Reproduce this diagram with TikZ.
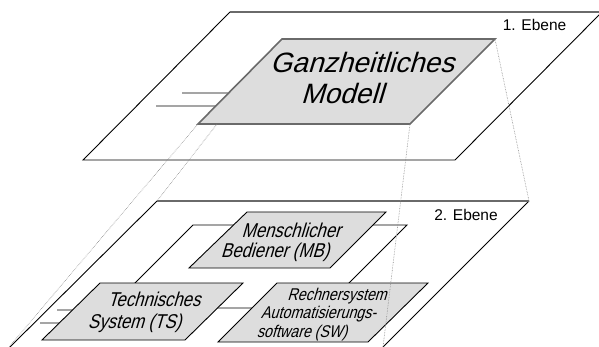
\documentclass[tikz,border=0pt]{standalone}
\usepackage{fontspec}
\usetikzlibrary{calc}
\setmainfont{Liberation Sans}
\newfontfamily\bigit{Liberation Sans}[FakeSlant=0.3]
\newfontfamily\condit{Liberation Sans}[FakeStretch=0.84,FakeSlant=0.3]
\definecolor{boxgray}{HTML}{DDDDDD}
\definecolor{edgegray}{HTML}{6A6A6A}
\definecolor{dotgray}{HTML}{8A8A8A}
\tikzset{
  planeline/.style={draw=black, line width=0.9pt},
  planetop/.style={draw=edgegray, line width=1.8pt},
  stub/.style={draw=black, line width=0.9pt},
  topbox/.style={fill=boxgray, draw=edgegray, line width=1.6pt, line join=miter},
  lowbox/.style={fill=boxgray, draw=black, line width=0.9pt, line join=miter},
  innerframe/.style={draw=black, line width=0.9pt},
  proj/.style={draw=dotgray, line width=0.6pt, densely dotted},
  bigtxt/.style={inner sep=0pt, anchor=base, font=\bigit\fontsize{28}{31}\selectfont},
  midtxt/.style={inner sep=0pt, anchor=base, font=\condit\fontsize{20}{21}\selectfont},
  smalltxt/.style={inner sep=0pt, anchor=base, font=\condit\fontsize{17}{18}\selectfont},
  lvltxt/.style={inner sep=0pt, anchor=base, font=\fontsize{15.5}{17}\selectfont}
}
\begin{document}
\begin{tikzpicture}[x=1pt,y=-1pt]
\useasboundingbox (0,0) rectangle (599,347);
% ---------- upper plane ----------
\coordinate (p1bl) at (83,160);
\coordinate (p1br) at (455,160);
\coordinate (p1tr) at (602,12);
\coordinate (p1tl) at (230,12);
\draw[planeline] (p1tl) -- (p1bl) -- (p1br) -- (p1tr);
\draw[planetop] (p1tl) -- (p1tr);
% ---------- lower plane ----------
\coordinate (p2tl) at (157,201);
\coordinate (p2tr) at (529,201);
\coordinate (p2bl) at (10,347);
\coordinate (p2br) at (383,347);
\draw[planeline] (p2bl) -- (p2tl);
\draw[planeline] (p2tr) -- (p2br);
\draw[planetop] (p2tl) -- (p2tr);
% ---------- upper stubs ----------
\coordinate (gbl) at (198,124);
\coordinate (gbr) at (410,124);
\coordinate (gtr) at (495,39);
\coordinate (gtl) at (282,39);
\coordinate (s1a) at (182,93);
\coordinate (s1b) at ($(gbl)!0.365!(gtl)$);
\coordinate (s2a) at (156,106);
\coordinate (s2b) at ($(gbl)!0.212!(gtl)$);
\draw[stub] (s1a) -- (s1b);
\draw[stub] (s2a) -- (s2b);
% ---------- inner frame on lower plane ----------
\coordinate (ftl) at (193,225);
\coordinate (ftr) at (407,225);
\coordinate (fbr) at (324,308);
\coordinate (fbl) at (110,308);
\draw[innerframe] (ftl) -- (ftr) -- (fbr) -- (fbl) -- cycle;
% ---------- TS stubs ----------
\coordinate (tbl) at (42,340);
\coordinate (tbr) at (185,340);
\coordinate (ttr) at (243,283);
\coordinate (ttl) at (100,283);
\coordinate (t1a) at (57,310);
\coordinate (t1b) at ($(tbl)!0.526!(ttl)$);
\coordinate (t2a) at (40,323);
\coordinate (t2b) at ($(tbl)!0.298!(ttl)$);
\draw[stub] (t1a) -- (t1b);
\draw[stub] (t2a) -- (t2b);
% ---------- gray boxes ----------
\filldraw[topbox] (gbl) -- (gbr) -- (gtr) -- (gtl) -- cycle;
\filldraw[lowbox] (189,268) -- (330,268) -- (386,212) -- (247,212) -- cycle;
\filldraw[lowbox] (tbl) -- (tbr) -- (ttr) -- (ttl) -- cycle;
\filldraw[lowbox] (218,342) -- (368,342) -- (428,283) -- (277,283) -- cycle;
% ---------- projection lines ----------
\coordinate (gbl2) at (217,124);
\coordinate (pbl) at (9,347);
\draw[proj] (gbl) -- (pbl);
\draw[proj] (gbl2) -- (p2tl);
\draw[proj] (gbr) -- (p2br);
\draw[proj] (gtr) -- (p2tr);
% ---------- texts ----------
\node[bigtxt] (g1) at (362,73) {Ganzheitliches};
\node[bigtxt] (g2) at (342,104) {Modell};
\node[midtxt] (m1) at (291,237) {Menschlicher};
\node[midtxt] (m2) at (275,257) {Bediener (MB)};
\node[midtxt] (t1) at (154,306) {Technisches};
\node[midtxt] (t2) at (134.5,328) {System (TS)};
\node[smalltxt] (r1) at (337,300) {Rechnersystem};
\node[smalltxt] (r2) at (318.5,318) {Automatisierungs-};
\node[smalltxt] (r3) at (302,337) {software (SW)};
\node[lvltxt] (e1) at (534.5,31) {1. Ebene};
\node[lvltxt] (e2) at (466,221) {2. Ebene};
\end{tikzpicture}
\end{document}
